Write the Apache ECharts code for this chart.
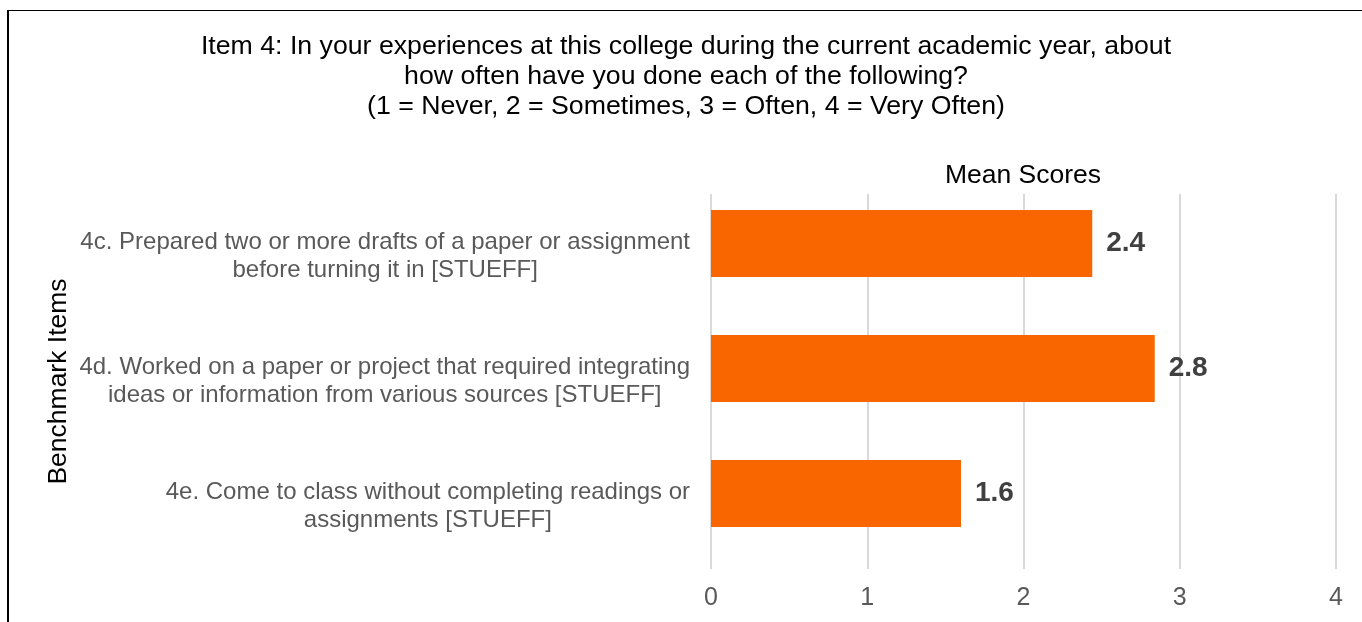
<!DOCTYPE html>
<html>
<head>
<meta charset="utf-8">
<script src="https://cdn.jsdelivr.net/npm/echarts@6/dist/echarts.min.js"></script>
<style>
html, body { margin: 0; padding: 0; background: #fff; overflow: hidden; }
#frame { position: absolute; left: 7px; top: 10px; width: 1400px; height: 700px;
  border-left: 2px solid #000; border-top: 1px solid #000; }
#chart { position: absolute; left: 0; top: 0; width: 1362px; height: 622px; }
</style>
</head>
<body>
<div id="frame"></div>
<div id="chart"></div>
<script>
var titleLines = [
    'Item 4: In your experiences at this college during the current academic year, about',
    'how often have you done each of the following?',
    '(1 = Never, 2 = Sometimes, 3 = Often, 4 = Very Often)'
];
var categories = [
    '4c. Prepared two or more drafts of a paper or assignment\nbefore turning it in [STUEFF]',
    '4d. Worked on a paper or project that required integrating\nideas or information from various sources [STUEFF]',
    '4e. Come to class without completing readings or\nassignments [STUEFF]'
];
var meanScores = [2.44, 2.84, 1.6];
var xTicks = [0, 1, 2, 3, 4];

var font = 'Liberation Sans, Arial, sans-serif';
var chart = echarts.init(document.getElementById('chart'));

// grid 0 carries labels and gridlines, grid 1 (same width, shifted up) carries the bars
var option = {
    animation: false,
    graphic: [{
        type: 'text',
        x: 686,
        y: 32,
        style: {
            text: titleLines.join('\n'),
            font: '26.7px ' + font,
            fill: '#000',
            textAlign: 'center',
            textVerticalAlign: 'top',
            lineHeight: 30
        }
    }, {
        type: 'text',
        x: 1023,
        y: 176,
        style: {
            text: 'Mean Scores',
            font: '26.5px ' + font,
            fill: '#000',
            textAlign: 'center',
            textVerticalAlign: 'middle'
        }
    }],
    grid: [
        { left: 711, right: 26, top: 194, bottom: 53 },
        { left: 711, right: 26, top: 181, bottom: 66 }
    ],
    xAxis: [{
        type: 'value',
        gridIndex: 0,
        min: xTicks[0],
        max: xTicks[xTicks.length - 1],
        interval: 1,
        axisLine: { show: false },
        axisTick: { show: false },
        axisLabel: {
            color: '#595959',
            fontFamily: font,
            fontSize: 25,
            margin: 17
        },
        splitLine: { lineStyle: { color: '#d9d9d9', width: 2 } }
    }, {
        type: 'value',
        gridIndex: 1,
        min: xTicks[0],
        max: xTicks[xTicks.length - 1],
        interval: 1,
        show: false,
        splitLine: { show: false }
    }],
    yAxis: [{
        type: 'category',
        gridIndex: 0,
        inverse: true,
        data: categories,
        name: 'Benchmark Items',
        nameLocation: 'middle',
        nameRotate: 90,
        nameGap: 639,
        nameTextStyle: { color: '#000', fontFamily: font, fontSize: 26.5 },
        axisLine: { show: false },
        axisTick: { show: false },
        axisLabel: {
            margin: 21,
            align: 'right',
            formatter: function(v) {
                return v.split('\n').map(function(s) { return '{c|' + s + '}'; }).join('\n');
            },
            rich: {
                c: {
                    align: 'center',
                    color: '#595959',
                    fontFamily: font,
                    fontSize: 24,
                    lineHeight: 28
                }
            }
        }
    }, {
        type: 'category',
        gridIndex: 1,
        inverse: true,
        data: categories,
        show: false
    }],
    series: [{
        type: 'bar',
        xAxisIndex: 1,
        yAxisIndex: 1,
        data: meanScores,
        barWidth: 67,
        itemStyle: { color: '#f96600' },
        label: {
            show: true,
            position: 'right',
            distance: 14,
            color: '#404040',
            fontFamily: font,
            fontSize: 28,
            fontWeight: 'bold',
            formatter: function(p) { return p.value.toFixed(1); }
        }
    }]
};
chart.setOption(option);
</script>
</body>
</html>
